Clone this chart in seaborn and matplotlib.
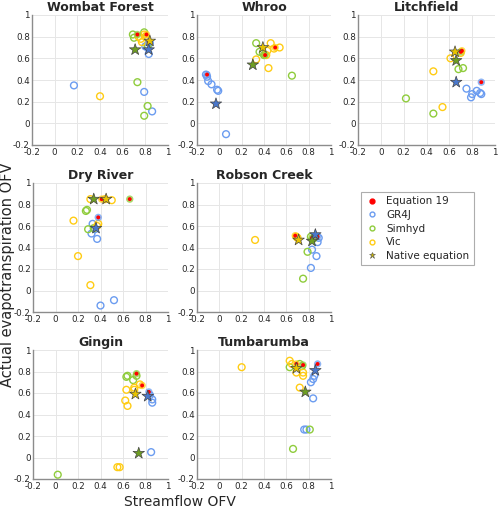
import matplotlib
matplotlib.use('Agg')
import matplotlib.pyplot as plt
import seaborn as sb
import numpy as np
import pandas as pd
from matplotlib.lines import Line2D

sb.set_style('white')
plt.rcParams['font.family'] = ['DejaVu Sans']

sites = ['Wombat Forest', 'Whroo', 'Litchfield', 'Dry River', 'Robson Creek', 'Gingin', 'Tumbarumba']
models = ['GR4J', 'Simhyd', 'Vic']

# Open circles: calibrated variants for each model (site, streamflow OFV, ET OFV)
gr4j_site = ['Wombat Forest'] * 7 + ['Whroo'] * 7 + ['Litchfield'] * 6 + ['Dry River'] * 6 \
    + ['Robson Creek'] * 5 + ['Gingin'] * 4 + ['Tumbarumba'] * 6
gr4j_sf = [0.17, 0.79, 0.86, 0.83, 0.80, 0.84, 0.82,
           -0.11, -0.10, -0.07, -0.02, -0.01, 0.06, -0.12,
           0.75, 0.84, 0.80, 0.79, 0.87, 0.88,
           0.33, 0.32, 0.37, 0.40, 0.52, 0.35,
           0.82, 0.83, 0.87, 0.88, 0.89,
           0.85, 0.86, 0.86, 0.84,
           0.76, 0.78, 0.84, 0.82, 0.84, 0.85]
gr4j_et = [0.35, 0.29, 0.11, 0.64, 0.71, 0.74, 0.70,
           0.43, 0.39, 0.36, 0.31, 0.30, -0.10, 0.45,
           0.32, 0.30, 0.27, 0.24, 0.28, 0.27,
           0.62, 0.53, 0.48, -0.14, -0.09, 0.57,
           0.21, 0.38, 0.32, 0.45, 0.49,
           0.05, 0.51, 0.54, 0.58,
           0.26, 0.26, 0.55, 0.70, 0.73, 0.76]

simhyd_site = ['Wombat Forest'] * 7 + ['Whroo'] * 5 + ['Litchfield'] * 4 + ['Dry River'] * 4 \
    + ['Robson Creek'] * 4 + ['Gingin'] * 5 + ['Tumbarumba'] * 5
simhyd_sf = [0.73, 0.82, 0.79, 0.69, 0.70, 0.79, 0.82,
             0.33, 0.36, 0.40, 0.65, 0.39,
             0.22, 0.46, 0.68, 0.72,
             0.27, 0.28, 0.29, 0.34,
             0.75, 0.79, 0.82, 0.84,
             0.02, 0.64, 0.69, 0.72, 0.63,
             0.66, 0.63, 0.72, 0.81, 0.74]
simhyd_et = [0.38, 0.16, 0.07, 0.82, 0.79, 0.84, 0.72,
             0.74, 0.66, 0.63, 0.44, 0.65,
             0.23, 0.09, 0.50, 0.51,
             0.74, 0.75, 0.57, 0.58,
             0.11, 0.36, 0.50, 0.48,
             -0.16, 0.76, 0.72, 0.76, 0.75,
             0.08, 0.84, 0.87, 0.26, 0.85]

vic_site = ['Wombat Forest'] * 6 + ['Whroo'] * 7 + ['Litchfield'] * 4 + ['Dry River'] * 8 \
    + ['Robson Creek'] * 3 + ['Gingin'] * 8 + ['Tumbarumba'] * 7
vic_sf = [0.40, 0.76, 0.77, 0.79, 0.80, 0.74,
          0.33, 0.44, 0.46, 0.54, 0.49, 0.43, 0.42,
          0.46, 0.54, 0.61, 0.70,
          0.16, 0.20, 0.31, 0.31, 0.50, 0.38, 0.37, 0.44,
          0.32, 0.70, 0.69,
          0.55, 0.57, 0.62, 0.64, 0.63, 0.70, 0.70, 0.75,
          0.20, 0.63, 0.72, 0.75, 0.75, 0.69, 0.65]
vic_et = [0.25, 0.78, 0.75, 0.82, 0.80, 0.80,
          0.59, 0.51, 0.74, 0.70, 0.69, 0.67, 0.63,
          0.48, 0.15, 0.60, 0.65,
          0.65, 0.32, 0.05, 0.85, 0.84, 0.62, 0.60, 0.85,
          0.47, 0.49, 0.50,
          -0.09, -0.09, 0.53, 0.48, 0.63, 0.65, 0.63, 0.68,
          0.84, 0.90, 0.65, 0.79, 0.76, 0.79, 0.87]

# Equation 19 results, one per site and model (order: GR4J, Simhyd, Vic)
eq19_sf = [[0.83, 0.73, 0.81], [-0.11, 0.41, 0.50], [0.88, 0.70, 0.71], [0.38, 0.66, 0.41],
           [0.88, 0.83, 0.68], [0.83, 0.72, 0.77], [0.88, 0.75, 0.69]]
eq19_et = [[0.75, 0.82, 0.82], [0.45, 0.63, 0.70], [0.38, 0.66, 0.67], [0.68, 0.85, 0.85],
           [0.50, 0.49, 0.51], [0.61, 0.78, 0.67], [0.87, 0.86, 0.87]]

# Native equation results (order: GR4J, Simhyd, Vic)
native_sf = [[0.83, 0.71, 0.84], [-0.03, 0.30, 0.39], [0.66, 0.66, 0.65], [0.36, 0.34, 0.45],
             [0.86, 0.83, 0.71], [0.82, 0.74, 0.71], [0.86, 0.77, 0.69]]
native_et = [[0.68, 0.68, 0.76], [0.18, 0.54, 0.70], [0.38, 0.58, 0.66], [0.58, 0.85, 0.85],
             [0.52, 0.46, 0.47], [0.57, 0.04, 0.59], [0.81, 0.61, 0.83]]

ticks = [-0.2, 0, 0.2, 0.4, 0.6, 0.8, 1]
tick_labels = ['-0.2', '0', '0.2', '0.4', '0.6', '0.8', '1']

circle_cols = {'GR4J': '#6b9cf0', 'Simhyd': '#8fcc3c', 'Vic': '#ffcc14'}
star_cols = {'GR4J': '#4a78cc', 'Simhyd': '#6e9e22', 'Vic': '#e8c400'}

open_df = pd.concat([
    pd.DataFrame({'site': gr4j_site, 'sf': gr4j_sf, 'et': gr4j_et, 'model': 'GR4J'}),
    pd.DataFrame({'site': simhyd_site, 'sf': simhyd_sf, 'et': simhyd_et, 'model': 'Simhyd'}),
    pd.DataFrame({'site': vic_site, 'sf': vic_sf, 'et': vic_et, 'model': 'Vic'}),
], ignore_index=True)

rows = []
for i, s in enumerate(sites):
    for j, m in enumerate(models):
        rows.append({'site': s, 'model': m, 'eq_sf': eq19_sf[i][j], 'eq_et': eq19_et[i][j],
                     'nat_sf': native_sf[i][j], 'nat_et': native_et[i][j]})
point_df = pd.DataFrame(rows)

fig = plt.figure(figsize=(5.0, 5.14), dpi=100)

# axes boxes in pixels (left, top, right, bottom)
boxes = [(32, 15, 168, 145), (197, 15, 331, 145), (358, 15, 495, 145),
         (33, 183, 168, 312), (197, 183, 331, 312),
         (33, 350, 168, 479), (197, 350, 331, 479)]
W, H = 500, 514

for site, (l, t, r, b) in zip(sites, boxes):
    ax = fig.add_axes([l / W, 1 - b / H, (r - l) / W, (b - t) / H])
    sub = open_df[open_df['site'] == site]
    sb.scatterplot(ax=ax, data=sub, x='sf', y='et', hue='model', palette=circle_cols,
                   s=24, legend=False, zorder=3)
    # turn the filled markers into hollow rings
    coll = ax.collections[-1]
    fc = coll.get_facecolors()
    coll.set_edgecolors(fc)
    coll.set_facecolors('none')
    coll.set_linewidths(1.0)

    pts = point_df[point_df['site'] == site]
    # equation 19: filled model colour with red core
    sb.scatterplot(ax=ax, data=pts, x='eq_sf', y='eq_et', hue='model', palette=circle_cols,
                   s=28, alpha=0.75, edgecolor='none', legend=False, zorder=4)
    sb.scatterplot(ax=ax, data=pts, x='eq_sf', y='eq_et', color='#ff0000', s=8,
                   edgecolor='none', legend=False, zorder=5)
    # native equation stars
    sb.scatterplot(ax=ax, data=pts, x='nat_sf', y='nat_et', hue='model', palette=star_cols,
                   marker='*', s=75, edgecolor='#444444', linewidth=0.5, legend=False, zorder=6)

    ax.set_xlim(-0.2, 1)
    ax.set_ylim(-0.2, 1)
    ax.set_xticks(ticks)
    ax.set_yticks(ticks)
    ax.set_xticklabels(tick_labels, fontsize=6.3, color='#262626')
    ax.set_yticklabels(tick_labels, fontsize=6.3, color='#262626')
    ax.tick_params(axis='x', length=2, direction='in', color='#555555', pad=2)
    ax.tick_params(axis='y', length=2, direction='in', color='#555555', pad=1.5)
    ax.grid(True, color='#e6e6e6', linewidth=0.7)
    ax.set_axisbelow(True)
    for side in ['top', 'right']:
        ax.spines[side].set_visible(False)
    for side in ['left', 'bottom']:
        ax.spines[side].set_color('#8c8c8c')
        ax.spines[side].set_linewidth(1.0)
    ax.set_xlabel('')
    ax.set_ylabel('')
    ax.set_title(site, fontsize=9, fontweight='bold', pad=3)

handles = [
    Line2D([], [], marker='o', linestyle='none', color='#ff0000', markersize=3.5),
    Line2D([], [], marker='o', linestyle='none', markerfacecolor='none',
           markeredgecolor=circle_cols['GR4J'], markersize=3.5),
    Line2D([], [], marker='o', linestyle='none', markerfacecolor='none',
           markeredgecolor=circle_cols['Simhyd'], markersize=3.5),
    Line2D([], [], marker='o', linestyle='none', markerfacecolor='none',
           markeredgecolor=circle_cols['Vic'], markersize=3.5),
    Line2D([], [], marker='*', linestyle='none', markerfacecolor='#c8b400',
           markeredgecolor='#555555', markeredgewidth=0.4, markersize=4.5),
]
labels = ['Equation 19', 'GR4J', 'Simhyd', 'Vic', 'Native equation']
leg = fig.legend(handles, labels, loc='upper left', bbox_to_anchor=(356 / W, 1 - 187 / H),
                 fontsize=7.5, frameon=True, fancybox=False, edgecolor='#999999',
                 handlelength=1.2, handletextpad=0.8, borderpad=0.4, labelspacing=0.35)
leg.get_frame().set_linewidth(0.8)

fig.text(8 / W, 1 - 275 / H, 'Actual evapotranspiration OFV', rotation=90,
         ha='center', va='center', fontsize=10.5, color='#262626')
fig.text(180 / W, 1 - 502 / H, 'Streamflow OFV', ha='center', va='center',
         fontsize=10, color='#262626')

fig.savefig('out.png', dpi=100)
